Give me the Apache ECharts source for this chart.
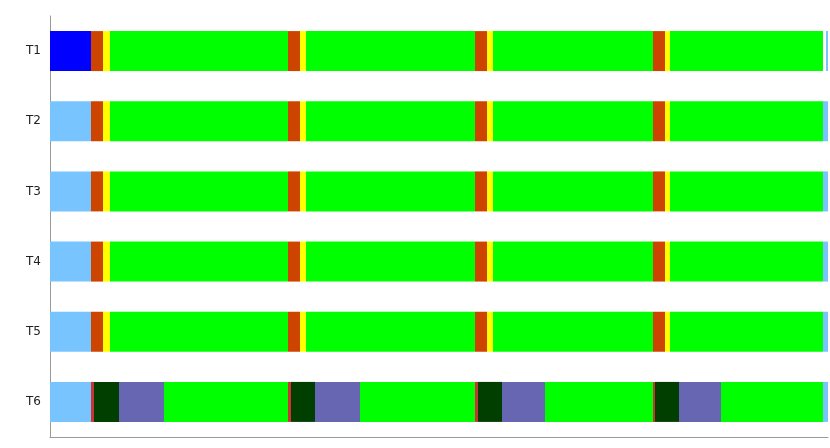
<!DOCTYPE html>
<html>
<head>
<meta charset="utf-8">
<title>threads</title>
<script src="https://cdn.jsdelivr.net/npm/echarts@6/dist/echarts.min.js"></script>
<style>
  html, body { margin: 0; padding: 0; background: #fff; }
  #main { width: 830px; height: 448px; }
</style>
</head>
<body>
<div id="main"></div>
<script>
// 线程名
const threads = ['T1', 'T2', 'T3', 'T4', 'T5', 'T6'];

// 每个线程的时间段 [开始, 结束, 状态]
const segT1 = [
  [0, 41, 'start'], [41, 53, 'lock'], [53, 60, 'signal'], [60, 238, 'work'],
  [238, 250, 'lock'], [250, 256, 'signal'], [256, 425, 'work'],
  [425, 437, 'lock'], [437, 443, 'signal'], [443, 603, 'work'],
  [603, 615, 'lock'], [615, 620, 'signal'], [620, 773, 'work'],
  [776, 778, 'idle']
];
const segT2 = [
  [0, 41, 'idle'], [41, 53, 'lock'], [53, 60, 'signal'], [60, 238, 'work'],
  [238, 250, 'lock'], [250, 256, 'signal'], [256, 425, 'work'],
  [425, 437, 'lock'], [437, 443, 'signal'], [443, 603, 'work'],
  [603, 615, 'lock'], [615, 620, 'signal'], [620, 773, 'work'],
  [773, 778, 'idle']
];
const segT3 = segT2;
const segT4 = segT2;
const segT5 = segT2;
const segT6 = [
  [0, 41, 'idle'], [41, 44, 'notify'], [44, 69, 'block'], [69, 114, 'wait'], [114, 238, 'work'],
  [238, 241, 'notify'], [241, 265, 'block'], [265, 310, 'wait'], [310, 425, 'work'],
  [425, 428, 'notify'], [428, 452, 'block'], [452, 495, 'wait'], [495, 603, 'work'],
  [603, 605, 'notify'], [605, 629, 'block'], [629, 671, 'wait'], [671, 773, 'work'],
  [773, 778, 'idle']
];
const timeMax = 778;

// 状态颜色
const stateColor = {
  start: '#0000ff',
  idle: '#77c4ff',
  lock: '#cc4400',
  signal: '#ffff00',
  work: '#00ff00',
  notify: '#cc3333',
  block: '#003f00',
  wait: '#6666b3'
};

const rows = [segT1, segT2, segT3, segT4, segT5, segT6];
const data = [];
rows.forEach(function (segs, i) {
  segs.forEach(function (s) {
    data.push({ value: [i, s[0], s[1]], itemStyle: { color: stateColor[s[2]] } });
  });
});

function renderItem(params, api) {
  const cat = api.value(0);
  const p0 = api.coord([api.value(1), cat]);
  const p1 = api.coord([api.value(2), cat]);
  const h = 40;
  return {
    type: 'rect',
    shape: { x: p0[0], y: p0[1] - h / 2, width: p1[0] - p0[0], height: h },
    style: api.style()
  };
}

const myChart = echarts.init(document.getElementById('main'));
myChart.setOption({
  animation: false,
  grid: { left: 50, right: 2, top: 16, bottom: 11 },
  xAxis: {
    type: 'value',
    min: 0,
    max: timeMax,
    axisLine: { show: true, lineStyle: { color: '#999', width: 1 } },
    axisTick: { show: false },
    axisLabel: { show: false },
    splitLine: { show: false }
  },
  yAxis: {
    type: 'category',
    inverse: true,
    data: threads,
    axisLine: { show: true, lineStyle: { color: '#999', width: 1 } },
    axisTick: { show: false },
    axisLabel: { color: '#222', fontSize: 12, margin: 9, fontFamily: 'DejaVu Sans' },
    splitLine: { show: false }
  },
  series: [{
    type: 'custom',
    renderItem: renderItem,
    encode: { x: [1, 2], y: 0 },
    data: data
  }]
});
</script>
</body>
</html>
